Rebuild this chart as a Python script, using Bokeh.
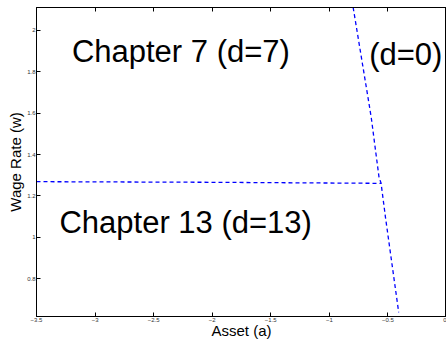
from bokeh.plotting import figure
from bokeh.models import Range1d, FixedTicker, LinearAxis
from bokeh.core.properties import value
from bokeh.embed import file_html
from bokeh.resources import INLINE

# ---- data ----
asset_d0 = [-0.797, -0.661, -0.641, -0.576, -0.559, -0.521, -0.408]
wage_d0 = [2.111, 1.644, 1.573, 1.290, 1.263, 1.097, 0.638]

asset_d13 = [-3.5, -2.0, -0.559]
wage_d13 = [1.269, 1.266, 1.261]

x_ticks = [-3.5, -3.0, -2.5, -2.0, -1.5, -1.0, -0.5, 0.0]
x_tick_labels = ["\u22123.5", "\u22123", "\u22122.5", "\u22122", "\u22121.5", "\u22121", "\u22120.5", "0"]
y_ticks = [0.8, 1.0, 1.2, 1.4, 1.6, 1.8, 2.0]
y_tick_labels = ["0.8", "1", "1.2", "1.4", "1.6", "1.8", "2"]

region_labels = ["Chapter 7 (d=7)", "(d=0)", "Chapter 13 (d=13)"]
region_x = [-3.198, -0.66, -3.304]
region_y = [1.897, 1.883, 1.071]

FONT = "Liberation Sans"

p = figure(width=446, height=341,
           x_range=Range1d(-3.5, 0.0), y_range=Range1d(0.618, 2.11),
           output_backend="svg", toolbar_location=None,
           min_border_left=36, min_border_right=0, min_border_top=7, min_border_bottom=25,
           x_axis_label="Asset (a)", y_axis_label="Wage Rate (w)")
p.grid.visible = False
p.outline_line_color = "black"
p.outline_line_width = 1
p.background_fill_color = "white"
p.border_fill_color = "white"

def style_axis(ax, ticks, labels, show_labels=True, label_size="15px", label_standoff=0):
    ax.ticker = FixedTicker(ticks=ticks)
    ax.major_label_overrides = {t: l for t, l in zip(ticks, labels)}
    ax.major_tick_in = 4
    ax.major_tick_out = 0
    ax.minor_tick_in = 0
    ax.minor_tick_out = 0
    ax.axis_line_color = "black"
    ax.major_tick_line_color = "black"
    ax.major_label_text_font = FONT
    ax.major_label_text_color = "#333333"
    ax.axis_label_text_font = FONT
    ax.axis_label_text_font_style = "normal"
    ax.axis_label_text_font_size = label_size
    ax.axis_label_text_color = "black"
    if show_labels:
        ax.major_label_text_font_size = "6px"
        ax.major_label_standoff = 1
        ax.axis_label_standoff = label_standoff
    else:
        ax.major_label_text_font_size = "0px"
        ax.major_label_standoff = 0

style_axis(p.xaxis[0], x_ticks, x_tick_labels, label_size="15px", label_standoff=-3)
style_axis(p.yaxis[0], y_ticks, y_tick_labels, label_size="15px")

top = LinearAxis()
style_axis(top, x_ticks, ["" for _ in x_ticks], show_labels=False)
p.add_layout(top, "above")

p.line(asset_d13, wage_d13, line_color="#0000ff", line_width=1.3, line_dash="4 3")
p.line(asset_d0, wage_d0, line_color="#0000ff", line_width=1.3, line_dash="4 3")

p.text(x=region_x, y=region_y, text=region_labels,
       text_font=value(FONT), text_font_size="31px", text_color="black",
       text_align="left", text_baseline="alphabetic")

open("out.html", "w").write(file_html(p, INLINE))
